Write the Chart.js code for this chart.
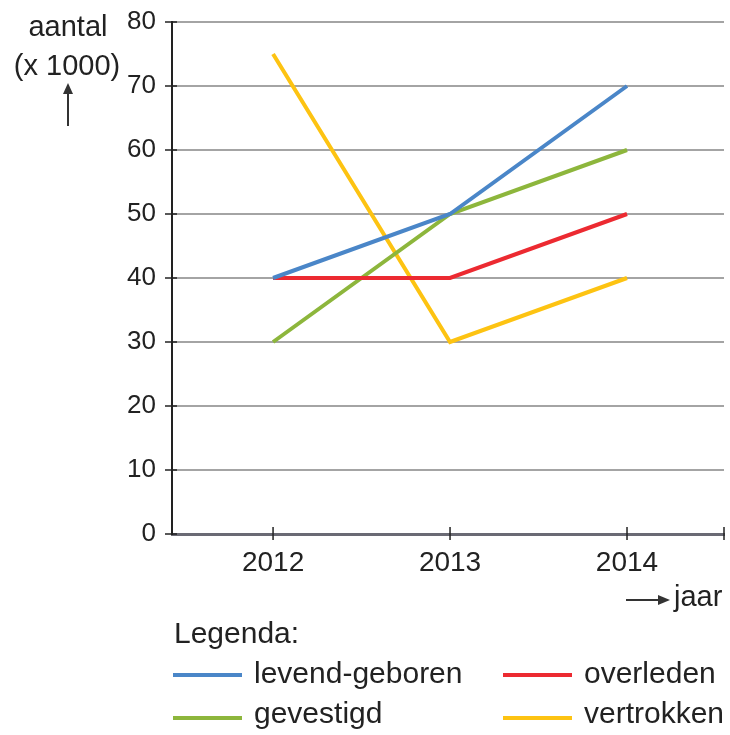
<!DOCTYPE html>
<html>
<head>
<meta charset="utf-8">
<script src="https://cdn.jsdelivr.net/npm/chart.js@4/dist/chart.umd.min.js"></script>
<style>
  html, body { margin: 0; padding: 0; background: #fff; }
  #wrap { position: relative; width: 730px; height: 735px; overflow: hidden; }
  #wrap canvas { position: absolute; left: 0; top: 0; }
  .txt { position: absolute; font-family: "Liberation Sans", Arial, sans-serif; color: #222; white-space: nowrap; line-height: 1; }
  .arrow { position: absolute; background: #333; }
</style>
</head>
<body>
<div id="wrap">
  <canvas id="c" width="730" height="735"></canvas>
</div>
<script>
const years = [2012, 2013, 2014];
const seriesNames = ['levend-geboren', 'overleden', 'gevestigd', 'vertrokken'];
const levendGeboren = [40, 50, 70];
const overleden = [40, 40, 50];
const gevestigd = [30, 50, 60];
const vertrokken = [75, 30, 40];
const seriesColors = ['#4a86c8', '#ec2a31', '#8db63c', '#fdc312'];
const yTicks = [0, 10, 20, 30, 40, 50, 60, 70, 80];
const yTitle = ['aantal', '(x 1000)'];
const xTitle = 'jaar';
const legendTitle = 'Legenda:';

const seriesValues = [levendGeboren, overleden, gevestigd, vertrokken];
const FONT = '"Liberation Sans", Arial, sans-serif';

// target plot box
const AREA = { left: 172, top: 22, right: 724, bottom: 534 };
let xAxisHeight = 735 - AREA.bottom;
let yAxisWidth = AREA.left;
let padTop = 22, padRight = 6;

const crossTicks = {
  id: 'crossTicks',
  afterDraw(chart) {
    const ctx = chart.ctx;
    const xs = chart.scales.x, ys = chart.scales.y;
    const a = chart.chartArea;
    ctx.save();
    ctx.strokeStyle = '#222';
    ctx.lineWidth = 1.5;
    ys.ticks.forEach(t => {
      const y = ys.getPixelForValue(t.value);
      ctx.beginPath(); ctx.moveTo(a.left - 7, y); ctx.lineTo(a.left + 5, y); ctx.stroke();
    });
    const xv = years.concat([xs.max]);
    xv.forEach(v => {
      const x = xs.getPixelForValue(v);
      ctx.beginPath(); ctx.moveTo(x, a.bottom - 7); ctx.lineTo(x, a.bottom + 6); ctx.stroke();
    });
    ctx.restore();
  }
};

function makeChart() {
  return new Chart(document.getElementById('c'), {
    type: 'line',
    data: {
      datasets: seriesNames.map((n, i) => ({
        label: n,
        data: years.map((yr, j) => ({ x: yr, y: seriesValues[i][j] })),
        borderColor: seriesColors[i],
        backgroundColor: seriesColors[i],
        borderWidth: 4,
        pointRadius: 0,
        tension: 0,
        fill: false
      }))
    },
    options: {
      responsive: false,
      animation: false,
      devicePixelRatio: 1,
      layout: { padding: { top: padTop, right: padRight, left: 0, bottom: 0 } },
      plugins: { legend: { display: false }, tooltip: { enabled: false } },
      scales: {
        x: {
          type: 'linear',
          min: 2011.429,
          max: 2014.548,
          afterBuildTicks: s => { s.ticks = years.map(v => ({ value: v })); },
          afterFit: s => { s.height = xAxisHeight; },
          grid: { drawOnChartArea: false, drawTicks: false },
          border: { display: true, color: '#6a6a74', width: 3 },
          ticks: {
            padding: 12,
            color: '#222',
            font: { family: FONT, size: 28 },
            maxRotation: 0,
            callback: v => String(v)
          }
        },
        y: {
          min: 0,
          max: 80,
          afterBuildTicks: s => { s.ticks = yTicks.map(v => ({ value: v })); },
          afterFit: s => { s.width = yAxisWidth; },
          grid: { color: '#a4a4a4', lineWidth: 2, drawTicks: false },
          border: { display: true, color: '#222', width: 2 },
          ticks: {
            padding: 16,
            color: '#222',
            font: { family: FONT, size: 26, lineHeight: 0.3 }
          }
        }
      }
    },
    plugins: [crossTicks]
  });
}

let chart = makeChart();
// rebuild with corrected layout so the plot box lands where the reference has it
for (let k = 0; k < 5; k++) {
  const a = chart.chartArea;
  const dt = AREA.top - a.top, db = AREA.bottom - a.bottom, dl = AREA.left - a.left, dr = AREA.right - a.right;
  if (Math.abs(dt) < 0.3 && Math.abs(db) < 0.3 && Math.abs(dl) < 0.3 && Math.abs(dr) < 0.3) break;
  chart.destroy();
  padTop = Math.max(0, padTop + dt);
  padRight = Math.max(0, padRight - dr);
  xAxisHeight -= db;
  yAxisWidth += dl;
  chart = makeChart();
}

// Overlay texts
const wrap = document.getElementById('wrap');
function addText(str, left, top, size, align) {
  const d = document.createElement('div');
  d.className = 'txt';
  d.textContent = str;
  d.style.fontSize = size + 'px';
  d.style.top = top + 'px';
  if (align === 'center') { d.style.left = (left - 100) + 'px'; d.style.width = '200px'; d.style.textAlign = 'center'; }
  else d.style.left = left + 'px';
  wrap.appendChild(d);
  return d;
}
function addBox(left, top, w, h, color) {
  const d = document.createElement('div');
  d.className = 'arrow';
  d.style.left = left + 'px'; d.style.top = top + 'px';
  d.style.width = w + 'px'; d.style.height = h + 'px';
  if (color) d.style.background = color;
  wrap.appendChild(d);
  return d;
}
addText(yTitle[0], 68, 12, 29, 'center');
addText(yTitle[1], 67, 51, 29, 'center');
// up arrow
addBox(67, 92, 1.5, 34, '#333');
const ah = document.createElement('div');
ah.style.cssText = 'position:absolute;left:63px;top:83px;width:0;height:0;border-left:5px solid transparent;border-right:5px solid transparent;border-bottom:11px solid #333;';
wrap.appendChild(ah);
// right arrow + jaar
addBox(626, 599, 34, 1.5, '#333');
const ah2 = document.createElement('div');
ah2.style.cssText = 'position:absolute;left:658px;top:595px;width:0;height:0;border-top:5px solid transparent;border-bottom:5px solid transparent;border-left:12px solid #333;';
wrap.appendChild(ah2);
addText(xTitle, 674, 582, 29, 'left');

// Legend
addText(legendTitle, 174, 618, 30, 'left');
const legCols = [173, 503];
const legRows = [675, 718];
const legTextTop = [658, 698];
seriesNames.forEach((n, i) => {
  const col = i % 2, row = Math.floor(i / 2);
  addBox(legCols[col], legRows[row] - 2, 69, 4, seriesColors[i]);
  addText(n, legCols[col] + 81, legTextTop[row], 30, 'left');
});
</script>
</body>
</html>
